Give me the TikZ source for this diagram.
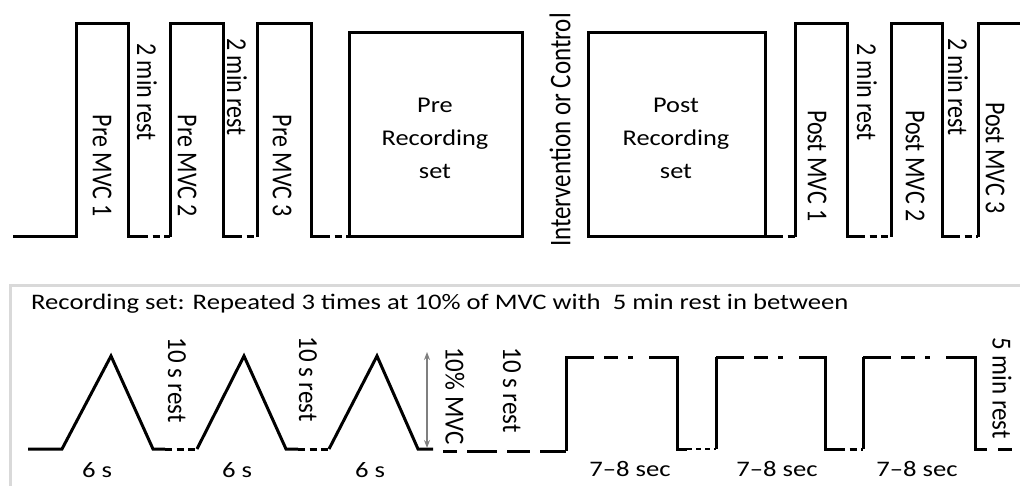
\documentclass[tikz,border=0pt]{standalone}
\usepackage{graphicx}
\usepackage{fontspec}
\setmainfont{Carlito}
\usetikzlibrary{arrows.meta}
\definecolor{framegray}{HTML}{D9D9D9}
\definecolor{arrowgray}{HTML}{7F7F7F}
\begin{document}
\begin{tikzpicture}[x=1pt,y=-1pt,
  wave/.style={line width=3pt, line join=miter, line cap=butt},
  restdash/.style={line width=3pt, dash pattern=on 7pt off 4.5pt},
  thindash/.style={line width=2pt, dash pattern=on 5pt off 4pt},
  holdtop/.style={line width=3pt, dash pattern=on 28pt off 10pt on 14pt off 10pt on 5pt off 16pt on 40pt off 1pt},
  toplabel/.style={font=\fontsize{24}{28}\selectfont, inner sep=0pt, xscale=1.2},
  boxlabel/.style={font=\fontsize{22.5}{33}\selectfont, align=center, inner sep=0pt, xscale=1.17},
  botlabel/.style={font=\fontsize{22.2}{27}\selectfont, inner sep=0pt, xscale=1.2},
  botvert/.style={font=\fontsize{25}{30}\selectfont, inner sep=0pt, xscale=1.1, rotate=-90},
  down/.style={rotate=-90},
  up/.style={rotate=90}]
\useasboundingbox (0,0) rectangle (1020,486);

% ---------- session timeline ----------
\draw[wave] (13,237) -- (76,237) -- (76,24) -- (128,24) -- (128,237) -- (141,237);
\draw[restdash] (141,237) -- (170,237);
\draw[wave] (170,237) -- (170,24) -- (223,24) -- (223,237) -- (235,237);
\draw[restdash] (235,237) -- (257,237);
\draw[wave] (257,237) -- (257,24) -- (311,24) -- (311,237) -- (323,237);
\draw[restdash] (323,237) -- (349,237);
\draw[wave] (349,33) rectangle (522,237);
\draw[wave] (588,33) rectangle (765,237);
\draw[wave] (765,237) -- (776,237);
\draw[restdash] (776,237) -- (795,237);
\draw[wave] (795,237) -- (795,24) -- (847,24) -- (847,237) -- (858,237);
\draw[restdash] (858,237) -- (891,237);
\draw[wave] (891,237) -- (891,24) -- (942,24) -- (942,237) -- (953,237);
\draw[restdash] (953,237) -- (978,237);
\draw[wave] (978,237) -- (978,24) -- (1022,24);

\node[toplabel, down] (pre1) at (102,166) {Pre MVC 1};
\node[toplabel, down] (pre2) at (187,166) {Pre MVC 2};
\node[toplabel, down] (pre3) at (282,166) {Pre MVC 3};
\node[toplabel, down] (rest1) at (147,92) {2 min rest};
\node[toplabel, down] (rest2) at (237,87) {2 min rest};
\node[boxlabel] (prerec) at (435,138) {Pre\\Recording\\set};
\node[toplabel, up, font=\fontsize{25}{30}\selectfont] (interv) at (560,130) {Intervention or Control};
\node[boxlabel] (postrec) at (676,138) {Post\\Recording\\set};
\node[toplabel, down] (post1) at (817,166) {Post MVC 1};
\node[toplabel, down] (post2) at (915,166) {Post MVC 2};
\node[toplabel, down] (post3) at (995,158) {Post MVC 3};
\node[toplabel, down] (rest3) at (867,92) {2 min rest};
\node[toplabel, down] (rest4) at (958,87) {2 min rest};

% ---------- recording set panel ----------
\draw[line width=3pt, framegray] (10,286) rectangle (1040,500);
\node[font=\fontsize{22.2}{27}\selectfont, inner sep=0pt, anchor=base west] (title) at (31,310)
  {\scalebox{1.2}[1]{Recording set: Repeated 3 times at 10\% of MVC with \ 5 min rest in between}};

% ramps
\draw[wave] (28,449) -- (62,449) -- (111,356) -- (153,449) -- (165,449);
\draw[restdash] (165,449) -- (197,449);
\draw[wave] (197,449) -- (244,356) -- (286,449) -- (298,449);
\draw[restdash] (298,449) -- (329,449);
\draw[wave] (329,449) -- (377,356) -- (418,449) -- (433,449);
\draw[line width=3pt, dash pattern=on 14pt off 10pt on 30pt off 10pt on 23pt off 10pt on 26pt off 1pt]
  (443,451) -- (566,451);

% holds
\draw[wave] (566,451) -- (566,357) -- (567,357);
\draw[holdtop] (566,357) -- (677,357);
\draw[wave] (677,356) -- (677,449) -- (687,449);
\draw[thindash] (687,449) -- (716,449);
\draw[wave] (716,449) -- (716,357);
\draw[holdtop] (716,357) -- (825,357);
\draw[wave] (825,356) -- (825,449) -- (838,449);
\draw[restdash] (838,449) -- (863,449);
\draw[wave] (863,449) -- (863,357);
\draw[holdtop] (863,357) -- (975,357);
\draw[wave] (975,356) -- (975,449) -- (987,449);
\draw[line width=3pt, dash pattern=on 0pt off 11pt on 14pt off 10pt] (987,449) -- (1020,449);

% amplitude marker
\coordinate (mvctop) at (427,352);
\coordinate (mvcbot) at (427,448);
\draw[arrowgray, line width=1.3pt, {Stealth[length=8pt,width=6pt]}-{Stealth[length=8pt,width=6pt]}] (mvctop) -- (mvcbot);

\node[botvert] (r10a) at (177,380) {10 s rest};
\node[botvert] (r10b) at (308,379) {10 s rest};
\node[botvert] (r10c) at (512,390) {10 s rest};
\node[botvert] (mvc) at (455,396) {10\% MVC};
\node[botvert] (r5) at (1002,388) {5 min rest};

\node[botlabel] (d1) at (97,470) {6 s};
\node[botlabel] (d2) at (237,470) {6 s};
\node[botlabel] (d3) at (370,470) {6 s};
\node[botlabel] (h1) at (630,469) {7–8 sec};
\node[botlabel] (h2) at (777,469) {7–8 sec};
\node[botlabel] (h3) at (917,469) {7–8 sec};
\end{tikzpicture}
\end{document}
